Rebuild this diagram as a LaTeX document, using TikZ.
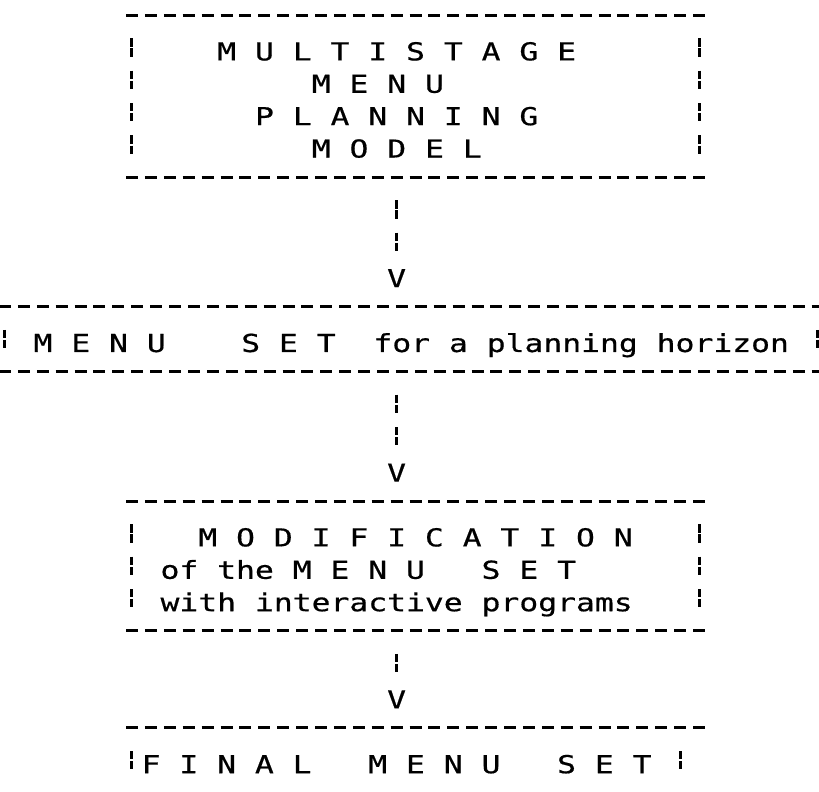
\documentclass[tikz,border=0pt]{standalone}
\usepackage{fontspec}
\newfontfamily\printfont[FakeStretch=1.27, FakeBold=0.6]{DejaVu Sans Mono}
\usetikzlibrary{positioning}

\tikzset{
  line/.style={anchor=base west, inner sep=0pt, font=\printfont\fontsize{24.7pt}{30pt}\selectfont},
  tip/.style={anchor=base, inner sep=0pt, font=\printfont\fontsize{24.7pt}{30pt}\selectfont},
  rulerow/.style={line width=3pt, dash pattern=on 12pt off 6.9pt},
  bar/.style={line width=3pt, dash pattern=on 8.3pt off 1.8pt on 8.3pt off 14pt}
}

\begin{document}
\begin{tikzpicture}[x=18.9pt, y=-32.4pt]
  % one unit = one printer column / one printer line
  \useasboundingbox (-6.984,-0.463) rectangle (36.349,23.951);

  % Multistage model
  \draw[rulerow] (-0.317,0) -- (30.317,0);
  \draw[rulerow] (-0.317,5) -- (30.317,5);
  \foreach \r in {1,...,4} {
    \draw[bar] (0,\r-0.282) -- (0,\r+0.282);
    \draw[bar] (30,\r-0.282) -- (30,\r+0.282);
  }
  \node[line] (model1) at (4.5,1.4) {M U L T I S T A G E};
  \node[line] (model2) at (9.5,2.4) {M E N U};
  \node[line] (model3) at (6.5,3.4) {P L A N N I N G};
  \node[line] (model4) at (9.5,4.4) {M O D E L};

  \coordinate (s1) at (14,5.718);
  \coordinate (e1) at (14,7.282);
  \draw[bar] (s1) -- (e1);
  \node[tip] (v1) at (14,8.4) {V};

  % Menu set
  \draw[rulerow] (-7.037,9) -- (36.597,9);
  \draw[rulerow] (-7.037,11) -- (36.597,11);
  \draw[bar] (-6.72,10-0.282) -- (-6.72,10+0.282);
  \draw[bar] (36.28,10-0.282) -- (36.28,10+0.282);
  \node[line] (set) at (-5.22,10.4) {M E N U\ \ \ \ S E T\ \ for a planning horizon};

  \coordinate (s2) at (14,11.718);
  \coordinate (e2) at (14,13.282);
  \draw[bar] (s2) -- (e2);
  \node[tip] (v2) at (14,14.4) {V};

  % Modification
  \draw[rulerow] (-0.317,15) -- (30.317,15);
  \draw[rulerow] (-0.317,19) -- (30.317,19);
  \foreach \r in {16,...,18} {
    \draw[bar] (0,\r-0.282) -- (0,\r+0.282);
    \draw[bar] (30,\r-0.282) -- (30,\r+0.282);
  }
  \node[line] (mod1) at (3.5,16.4) {M O D I F I C A T I O N};
  \node[line] (mod2) at (1.5,17.4) {of the M E N U\ \ \ S E T};
  \node[line] (mod3) at (1.5,18.4) {with interactive programs};

  \coordinate (s3) at (14,19.718);
  \coordinate (e3) at (14,20.282);
  \draw[bar] (s3) -- (e3);
  \node[tip] (v3) at (14,21.4) {V};

  % Final menu set
  \draw[rulerow] (-0.317,22) -- (30.317,22);
  \draw[bar] (0,23-0.282) -- (0,23+0.282);
  \draw[bar] (29,23-0.282) -- (29,23+0.282);
  \node[line] (final) at (0.5,23.4) {F I N A L\ \ \ M E N U\ \ \ S E T};
\end{tikzpicture}
\end{document}
